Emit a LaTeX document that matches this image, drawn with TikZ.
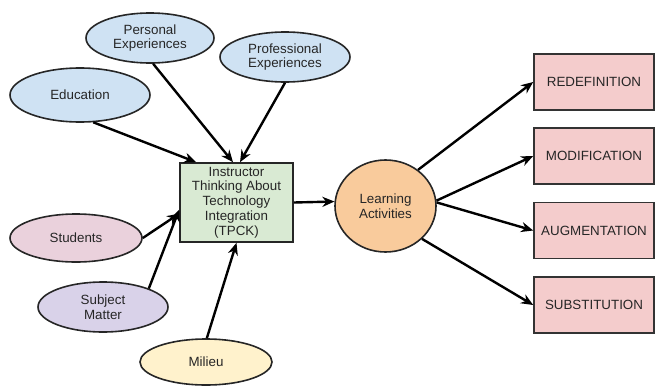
\documentclass[tikz,border=0pt]{standalone}
\usepackage{fontspec}
\setmainfont{Liberation Sans}
\usetikzlibrary{shapes.geometric,arrows.meta}
\newlength\px
\setlength{\px}{0.025cm}
\definecolor{ovalblue}{HTML}{CFE2F3}
\definecolor{ovalpink}{HTML}{EAD1DC}
\definecolor{ovalpurple}{HTML}{D9D2E9}
\definecolor{ovalyellow}{HTML}{FFF2CC}
\definecolor{tpckgreen}{HTML}{D9EAD3}
\definecolor{learnorange}{HTML}{F9CB9C}
\definecolor{levelred}{HTML}{F4CCCC}

\begin{document}
\begin{tikzpicture}[x=\px, y=-\px,
  font=\fontsize{9.5}{10.5}\selectfont,
  oval/.style={ellipse, draw=black!85, line width=1.6\px, inner sep=0pt,
    align=center, text=black!85},
  level/.style={rectangle, draw=black!80, line width=1.6\px, fill=levelred,
    minimum width=120\px, minimum height=56\px, text=black!85},
  arr/.style={-{Stealth[length=8.6pt,width=7.2pt]}, line width=2.4\px}]
  \useasboundingbox (0,0) rectangle (655,388);
  % influences on the instructor
  \node[oval, fill=ovalblue, minimum width=128\px, minimum height=50\px]
    (pers) at (150,38) {Personal\\Experiences};
  \node[oval, fill=ovalblue, minimum width=130\px, minimum height=50\px]
    (prof) at (285,57) {Professional\\Experiences};
  \node[oval, fill=ovalblue, minimum width=140\px, minimum height=54\px]
    (edu) at (80,95) {Education};
  \node[oval, fill=ovalpink, minimum width=132\px, minimum height=48\px]
    (stud) at (76,238) {Students};
  \node[oval, fill=ovalpurple, minimum width=130\px, minimum height=50\px]
    (subj) at (103,307) {Subject\\Matter};
  \node[oval, fill=ovalyellow, minimum width=132\px, minimum height=46\px]
    (mil) at (206,362) {Milieu};
  % centre of the chain
  \node[rectangle, draw=black!85, line width=1.6\px, fill=tpckgreen,
    align=center, minimum width=113\px, minimum height=79\px, inner sep=0pt,
    text=black!85]
    (tpck) at (236.5,202.5)
    {Instructor\\Thinking About\\Technology\\Integration\\(TPCK)};
  \node[oval, fill=learnorange, minimum width=101\px, minimum height=92\px]
    (learn) at (385.5,206) {Learning\\Activities};
  \draw[arr] (edu.-64) -- (tpck.135);
  \draw[arr] (pers.-83) -- (tpck.95);
  \draw[arr] (prof.south) -- (tpck.85);
  \draw[arr] (stud.east) -- (tpck.191);
  \draw[arr] (subj.22) -- (tpck.187);
  \draw[arr] (mil.88) -- (tpck.south);
  \draw[arr] (tpck.east) -- (learn.175);
  % SAMR levels, top to bottom
  \foreach \n/\lbl/\y/\a in {redef/REDEFINITION/82/48,
      modif/MODIFICATION/156/6, augm/AUGMENTATION/230.5/4,
      subst/SUBSTITUTION/305/-42}
  {
     \node[level] (\n) at (594,\y) {\lbl};
     \draw[arr] (learn.\a) -- (\n.west);
  }
\end{tikzpicture}
\end{document}
